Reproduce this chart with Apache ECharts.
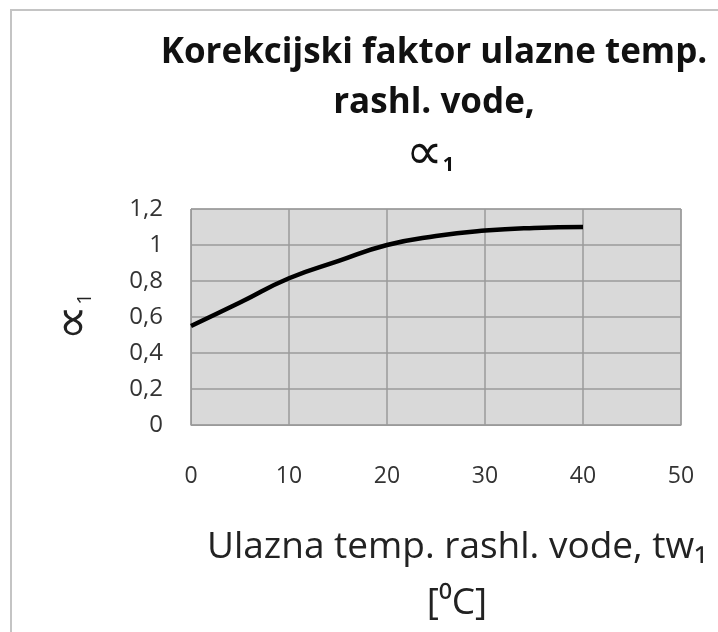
<!DOCTYPE html>
<html>
<head>
<meta charset="utf-8">
<script src="https://cdn.jsdelivr.net/npm/echarts@6/dist/echarts.min.js"></script>
<style>
  html, body { margin: 0; padding: 0; background: #fff; }
  #chart { width: 718px; height: 632px; }
</style>
</head>
<body>
<div id="chart"></div>
<script>
// inlet cooling water temperature [°C] and correction factor alpha1
const tempX = [0, 5, 10, 15, 20, 25, 30, 35, 40];
const alpha1 = [0.55, 0.68, 0.815, 0.91, 1.0, 1.05, 1.08, 1.095, 1.1];

const titleLines = ['Korekcijski faktor ulazne temp.', 'rashl. vode,'];
const titleSymbol = '\u221D';
const symbolIndex = '1';
const xName = 'Ulazna temp. rashl. vode, tw\u2081\n[\u2070C]';

const font = '"Open Sans", "DejaVu Sans", sans-serif';

const chart = echarts.init(document.getElementById('chart'));

chart.setOption({
  animation: false,
  backgroundColor: '#fff',
  graphic: [
    {
      type: 'rect',
      shape: { x: 11, y: 10, width: 760, height: 700 },
      style: { fill: 'none', stroke: '#c4c4c4', lineWidth: 2 },
      silent: true
    },
    {
      type: 'text',
      x: 434,
      y: 28,
      style: {
        text: titleLines.join('\n'),
        font: 'bold 35px ' + font,
        fill: '#111',
        align: 'center',
        lineHeight: 50
      }
    },
    {
      type: 'text',
      x: 430,
      y: 155,
      style: {
        text: '{a|' + titleSymbol + '}{s|' + symbolIndex + '}',
        align: 'center',
        verticalAlign: 'middle',
        rich: {
          a: { font: '52px "DejaVu Sans", sans-serif', fill: '#111', lineHeight: 40 },
          s: { font: 'bold 20px ' + font, fill: '#111', lineHeight: 40, verticalAlign: 'bottom', padding: [14, 0, 0, 0] }
        }
      }
    }
  ],
  grid: {
    left: 191,
    top: 209,
    right: 37,
    bottom: 207,
    show: true,
    backgroundColor: '#d9d9d9',
    borderColor: '#9a9a9a',
    borderWidth: 1
  },
  xAxis: {
    type: 'value',
    min: 0,
    max: 50,
    interval: 10,
    name: xName,
    nameLocation: 'middle',
    nameGap: 94,
    nameTextStyle: {
      fontFamily: font,
      fontSize: 37,
      color: '#222',
      lineHeight: 56,
      padding: [0, 0, 0, 42]
    },
    axisLine: { show: true, lineStyle: { color: '#9a9a9a', width: 1 } },
    axisTick: { show: false },
    axisLabel: {
      fontFamily: font,
      fontSize: 23,
      color: '#333',
      margin: 40
    },
    splitLine: { show: true, lineStyle: { color: '#9a9a9a', width: 1.5 } }
  },
  yAxis: {
    type: 'value',
    min: 0,
    max: 1.2,
    interval: 0.2,
    name: '{a|' + titleSymbol + '}{s|' + symbolIndex + '}',
    nameLocation: 'middle',
    nameRotate: 90,
    nameGap: 96,
    nameTextStyle: {
      color: '#222',
      rich: {
        a: { fontFamily: '"DejaVu Sans", sans-serif', fontSize: 50, color: '#222', lineHeight: 40 },
        s: { fontFamily: font, fontSize: 20, color: '#222', lineHeight: 40, verticalAlign: 'bottom', padding: [14, 0, 0, 0] }
      }
    },
    axisLine: { show: true, lineStyle: { color: '#9a9a9a', width: 1 } },
    axisTick: { show: false },
    axisLabel: {
      fontFamily: font,
      fontSize: 24,
      color: '#333',
      margin: 28,
      formatter: v => (Math.round(v * 10) / 10).toString().replace('.', ',')
    },
    splitLine: { show: true, lineStyle: { color: '#9a9a9a', width: 1.5 } }
  },
  series: [
    {
      type: 'line',
      data: tempX.map((x, i) => [x, alpha1[i]]),
      smooth: true,
      symbol: 'none',
      lineStyle: { color: '#000', width: 4.5 }
    }
  ]
});
</script>
</body>
</html>
